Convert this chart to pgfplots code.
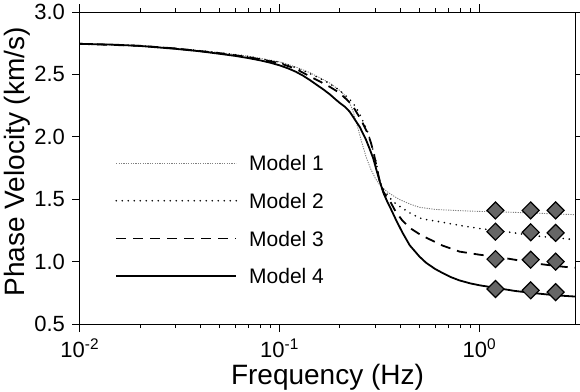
\documentclass[border=0pt]{standalone}
\usepackage{pgfplots}
\pgfplotsset{compat=1.18}
\usepackage{fontspec}
\setmainfont{Liberation Sans}
\begin{document}
\begin{tikzpicture}
\begin{axis}[
  at={(40pt,34pt)}, anchor=south west,
  scale only axis, width=247.5pt, height=156pt,
  xmode=log, xmin=0.01, xmax=3, ymin=0.5, ymax=3.0,
  xtick={0.01,0.1,1},
  xticklabels={10\textsuperscript{-2},10\textsuperscript{-1},10\textsuperscript{0}},
  ytick={0.5,1.0,1.5,2.0,2.5,3.0},
  /pgf/number format/assume math mode=true,
  y tick label style={/pgf/number format/fixed,/pgf/number format/fixed zerofill,/pgf/number format/precision=1},
  tick align=outside, major tick length=4pt, minor tick length=2pt,
  tick style={black, line width=0.5pt},
  axis line style={line width=0.5pt},
  ticklabel style={font=\fontsize{11}{11}\selectfont},
  label style={font=\fontsize{14}{14}\selectfont},
  xlabel={Frequency (Hz)}, ylabel={Phase Velocity (km/s)},
  xlabel style={at={([yshift=-30pt]axis description cs:0.5,0)}, anchor=base},
  ylabel style={at={([xshift=-27.5pt,yshift=3pt]axis description cs:0,0.5)}, anchor=base},
  legend image code/.code={\draw[#1] (0pt,0pt) -- (60pt,0pt);},
  legend style={draw=none, fill=none, inner sep=0pt, at={(rel axis cs:0.0707,0.541)}, anchor=north west,
    font=\fontsize{10.5}{10.5}\selectfont, row sep=11.35pt, column sep=6pt,
    nodes={inner sep=0pt, text height=7.5pt, text depth=0pt}},
  legend cell align=left,
]
\addplot[gray, line width=0.45pt, dash pattern=on 0.6pt off 0.6pt] coordinates {
(0.01,2.745)(0.02,2.73)(0.03,2.71)(0.05,2.675)(0.07,2.645)(0.1,2.60)(0.12,2.56)(0.141,2.515)(0.16,2.47)(0.178,2.43)(0.2,2.37)(0.212,2.33)(0.224,2.27)(0.233,2.20)(0.242,2.11)(0.255,1.976)(0.27,1.84)(0.286,1.736)(0.3,1.67)(0.316,1.615)(0.335,1.575)(0.355,1.545)(0.38,1.515)(0.4,1.495)(0.45,1.46)(0.5,1.435)(0.6,1.418)(0.8,1.408)(1.0,1.402)(1.2,1.40)(1.8,1.39)(3,1.376)};
\addlegendentry{Model 1}
\addplot[black, line width=0.9pt, line cap=round, dash pattern=on 0pt off 3pt] coordinates {
(0.01,2.745)(0.02,2.73)(0.03,2.71)(0.05,2.673)(0.07,2.643)(0.1,2.597)(0.12,2.555)(0.141,2.508)(0.16,2.465)(0.178,2.425)(0.2,2.37)(0.224,2.30)(0.24,2.24)(0.255,2.16)(0.275,2.04)(0.29,1.92)(0.303,1.80)(0.316,1.645)(0.33,1.58)(0.355,1.51)(0.38,1.465)(0.4,1.44)(0.447,1.39)(0.5,1.35)(0.543,1.336)(0.653,1.315)(0.794,1.29)(1.0,1.265)(1.2,1.25)(1.5,1.23)(1.8,1.21)(2.4,1.19)(3,1.176)};
\addlegendentry{Model 2}
\addplot[black, line width=0.9pt, dash pattern=on 5pt off 3.5pt] coordinates {
(0.01,2.745)(0.02,2.729)(0.03,2.708)(0.05,2.67)(0.07,2.638)(0.1,2.59)(0.12,2.545)(0.141,2.485)(0.16,2.44)(0.178,2.40)(0.2,2.35)(0.23,2.256)(0.255,2.136)(0.275,2.03)(0.286,1.95)(0.296,1.86)(0.305,1.76)(0.316,1.645)(0.33,1.56)(0.345,1.51)(0.36,1.47)(0.38,1.40)(0.41,1.33)(0.447,1.27)(0.5,1.22)(0.543,1.19)(0.653,1.128)(0.794,1.08)(1.0,1.055)(1.2,1.04)(1.5,1.015)(1.8,0.99)(2.4,0.965)(3,0.95)};
\addlegendentry{Model 3}
\addplot[black, line width=0.9pt] coordinates {
(0.01,2.745)(0.015,2.738)(0.02,2.728)(0.03,2.705)(0.04,2.685)(0.05,2.665)(0.06,2.648)(0.07,2.63)(0.08,2.612)(0.09,2.593)(0.1,2.572)(0.11,2.548)(0.12,2.522)(0.13,2.492)(0.141,2.456)(0.155,2.41)(0.165,2.38)(0.178,2.34)(0.19,2.30)(0.2,2.27)(0.212,2.24)(0.224,2.20)(0.237,2.14)(0.251,2.08)(0.27,1.976)(0.282,1.90)(0.293,1.83)(0.305,1.73)(0.316,1.645)(0.33,1.55)(0.345,1.48)(0.36,1.42)(0.38,1.34)(0.41,1.235)(0.447,1.13)(0.5,1.04)(0.54,0.99)(0.6,0.94)(0.65,0.91)(0.72,0.875)(0.79,0.85)(0.9,0.825)(1.0,0.81)(1.2,0.79)(1.5,0.765)(1.8,0.75)(2.4,0.73)(3,0.72)};
\addlegendentry{Model 4}
\addplot[only marks, forget plot, mark=square*, mark size=3pt, mark options={rotate=45, fill=black!60, draw=black, line width=0.6pt}] coordinates {
(1.2,1.41)(1.8,1.41)(2.4,1.41)
(1.2,1.24)(1.8,1.235)(2.4,1.23)
(1.2,1.02)(1.8,1.015)(2.4,1.00)
(1.2,0.78)(1.8,0.77)(2.4,0.755)};
\end{axis}
\pgfresetboundingbox
\useasboundingbox (0,0) rectangle (290pt,196pt);
\end{tikzpicture}
\end{document}
